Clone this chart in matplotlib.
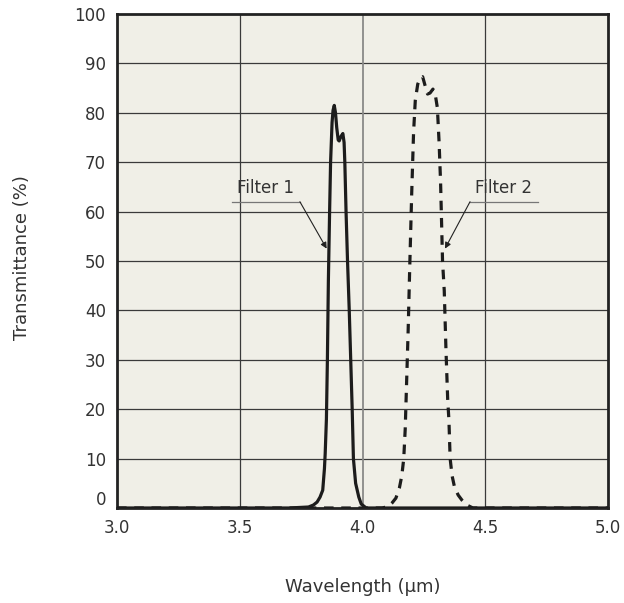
import numpy as np
import matplotlib
matplotlib.use("Agg")
import matplotlib.pyplot as plt
from matplotlib.transforms import ScaledTranslation

# Filter 1 (solid) - wavelength in um, transmittance in %
wl1 = [3.0, 3.70, 3.78, 3.80, 3.815, 3.827, 3.838, 3.845, 3.848, 3.853, 3.857,
       3.861, 3.866, 3.870, 3.876, 3.880, 3.885, 3.890, 3.895, 3.901, 3.905,
       3.912, 3.920, 3.925, 3.928, 3.933, 3.939, 3.946, 3.952, 3.958, 3.963,
       3.972, 3.985, 3.995, 4.015, 5.0]
t1 = [0, 0, 0.2, 0.6, 1.2, 2.2, 3.6, 8, 11, 18, 30,
      46, 60, 70, 78, 80.5, 81.5, 80, 77, 74.5, 74.3,
      75.2, 75.8, 74, 70, 60, 50, 40, 30, 20, 10,
      5, 2.2, 0.8, 0, 0]

# Filter 2 (dashed)
wl2 = [3.0, 4.08, 4.105, 4.12, 4.136, 4.150, 4.160, 4.168, 4.174, 4.180, 4.186,
       4.192, 4.200, 4.208, 4.215, 4.225, 4.235, 4.245, 4.255, 4.265, 4.275,
       4.287, 4.297, 4.305, 4.312, 4.318, 4.326, 4.333, 4.340, 4.347, 4.352,
       4.357, 4.365, 4.375, 4.390, 4.405, 4.425, 4.45, 5.0]
t2 = [0, 0, 0.3, 1, 2, 4, 6.5, 10, 16, 26, 36,
      48, 63, 76, 82.5, 85.8, 87, 87.3, 85.5, 83.8, 84,
      84.8, 83.5, 81, 74, 66, 50, 44, 32, 22, 17.8,
      10, 6.5, 4.2, 2.6, 1.6, 0.6, 0, 0]

xticks = [3.0, 3.5, 4.0, 4.5, 5.0]
yticks = list(range(0, 101, 10))

ink = "#1c1c1c"
txt = "#333333"

fig = plt.figure(figsize=(6.24, 6.03), dpi=100)
ax = fig.add_axes([117/624, 1 - 508/603, (608 - 117)/624, (508 - 14)/603])
ax.set_facecolor("#f0efe7")

ax.plot(wl1, t1, color=ink, lw=2.3, zorder=3)
ax.plot(wl2, t2, color=ink, lw=2.3, ls=(0, (3, 2.4)), zorder=3)

ax.set_xlim(3.0, 5.0)
ax.set_ylim(0, 100)
ax.set_xticks(xticks)
ax.set_xticklabels([f"{v:.1f}" for v in xticks])
ax.set_yticks(yticks)
ax.tick_params(length=0, labelsize=12, labelcolor=txt, pad=8)

# grid
for y in yticks[1:-1]:
    ax.axhline(y, color="#3a3a3a", lw=0.9, zorder=1)
for x in xticks[1:-1]:
    c = "#8a8a88" if x == 4.0 else "#3a3a3a"
    ax.axvline(x, color=c, lw=1.3 if x == 4.0 else 0.9, zorder=1)

for s in ax.spines.values():
    s.set_color("#222222")
    s.set_linewidth(2)

# nudge the "0" label up a little, like the original
lab0 = ax.get_yticklabels()[0]
lab0.set_transform(lab0.get_transform() + ScaledTranslation(0, 10/100, fig.dpi_scale_trans))

# callouts
ax.plot([3.467, 3.745], [62, 62], color="#777777", lw=0.9, zorder=4)
ax.annotate("", xy=(3.854, 52.5), xytext=(3.745, 62),
            arrowprops=dict(arrowstyle="-|>", color="#222222", lw=0.8,
                            mutation_scale=9, shrinkA=0, shrinkB=0), zorder=4)
ax.text(3.605, 64.8, "Filter 1", fontsize=12, color=txt, ha="center", va="center")

ax.plot([4.438, 4.715], [62, 62], color="#777777", lw=0.9, zorder=4)
ax.annotate("", xy=(4.336, 52.5), xytext=(4.438, 62),
            arrowprops=dict(arrowstyle="-|>", color="#222222", lw=0.8,
                            mutation_scale=9, shrinkA=0, shrinkB=0), zorder=4)
ax.text(4.576, 64.8, "Filter 2", fontsize=12, color=txt, ha="center", va="center")

fig.text(22/624, 1 - 258/603, "Transmittance (%)", rotation=90, fontsize=13,
         color=txt, ha="center", va="center")
fig.text(363/624, 1 - 587/603, "Wavelength (µm)", fontsize=13,
         color=txt, ha="center", va="center")

fig.savefig("out.png", dpi=100, facecolor="white")
